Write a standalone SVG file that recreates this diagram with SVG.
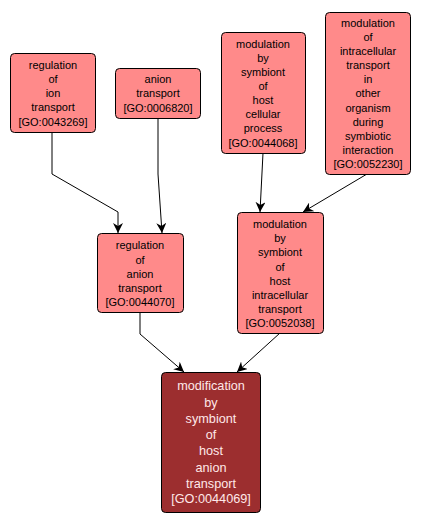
<svg xmlns="http://www.w3.org/2000/svg" width="421" height="524" viewBox="0 0 421 524">
<style>
.n rect{fill:#ff8a8a;stroke:#000;stroke-width:1}
.n text{font-family:"Liberation Sans",Arial,sans-serif;font-size:11px;fill:#000;text-anchor:middle}
.d rect{fill:#9c2e2f;stroke:#000;stroke-width:1}
.d text{font-family:"Liberation Sans",Arial,sans-serif;font-size:12.7px;fill:#ffe8e8;text-anchor:middle}
.e{fill:none;stroke:#000;stroke-width:1;marker-end:url(#ah)}
</style>
<defs>
<marker id="ah" viewBox="0 0 10 10" refX="10" refY="5" markerWidth="10" markerHeight="10" markerUnits="userSpaceOnUse" orient="auto">
<path d="M0,0 L10,5 L0,10 L3,5 Z" fill="#000"/>
</marker>
</defs>
<rect width="421" height="524" fill="#fff"/>
<g id="edges">
<polyline class="e" points="52,132 52,174 118,212 118,233"/>
<polyline class="e" points="158,118 158,174 162,233"/>
<polyline class="e" points="263,153 260,212"/>
<polyline class="e" points="367,174 303,212"/>
<polyline class="e" points="140,312 140,334 184,372"/>
<polyline class="e" points="280,333 237,372"/>
</g>
<g id="GO0043269" class="n">
<rect x="10.5" y="53.5" width="85" height="79" rx="4"/>
<text x="53" y="69">regulation</text>
<text x="53" y="83">of</text>
<text x="53" y="97">ion</text>
<text x="53" y="111">transport</text>
<text x="53" y="126">[GO:0043269]</text>
</g>
<g id="GO0006820" class="n">
<rect x="115.5" y="68.5" width="85" height="50" rx="4"/>
<text x="158" y="83">anion</text>
<text x="158" y="97">transport</text>
<text x="158" y="111.5">[GO:0006820]</text>
</g>
<g id="GO0044068" class="n">
<rect x="221.5" y="32.5" width="84" height="121" rx="4"/>
<text x="263" y="48">modulation</text>
<text x="263" y="62">by</text>
<text x="263" y="76">symbiont</text>
<text x="263" y="90">of</text>
<text x="263" y="104">host</text>
<text x="263" y="118">cellular</text>
<text x="263" y="132">process</text>
<text x="263" y="147">[GO:0044068]</text>
</g>
<g id="GO0052230" class="n">
<rect x="325.5" y="12.5" width="85" height="162" rx="4"/>
<text x="368" y="27">modulation</text>
<text x="368" y="41">of</text>
<text x="368" y="55">intracellular</text>
<text x="368" y="69">transport</text>
<text x="368" y="83">in</text>
<text x="368" y="97">other</text>
<text x="368" y="111.5">organism</text>
<text x="368" y="125.5">during</text>
<text x="368" y="139.5">symbiotic</text>
<text x="368" y="153.5">interaction</text>
<text x="368" y="168">[GO:0052230]</text>
</g>
<g id="GO0044070" class="n">
<rect x="97.5" y="233.5" width="86" height="79" rx="4"/>
<text x="140" y="249">regulation</text>
<text x="140" y="264">of</text>
<text x="140" y="278">anion</text>
<text x="140" y="292">transport</text>
<text x="140" y="306">[GO:0044070]</text>
</g>
<g id="GO0052038" class="n">
<rect x="237.5" y="212.5" width="86" height="121" rx="4"/>
<text x="280" y="228">modulation</text>
<text x="280" y="242">by</text>
<text x="280" y="256">symbiont</text>
<text x="280" y="271">of</text>
<text x="280" y="285">host</text>
<text x="280" y="299">intracellular</text>
<text x="280" y="313">transport</text>
<text x="280" y="327">[GO:0052038]</text>
</g>
<g id="GO0044069" class="d">
<rect x="161.5" y="372.5" width="99" height="140" rx="4"/>
<text x="211" y="389.5">modification</text>
<text x="211" y="406.5">by</text>
<text x="211" y="422.5">symbiont</text>
<text x="211" y="438.5">of</text>
<text x="211" y="454.5">host</text>
<text x="211" y="471.5">anion</text>
<text x="211" y="487.5">transport</text>
<text x="211" y="502.5">[GO:0044069]</text>
</g>
</svg>
